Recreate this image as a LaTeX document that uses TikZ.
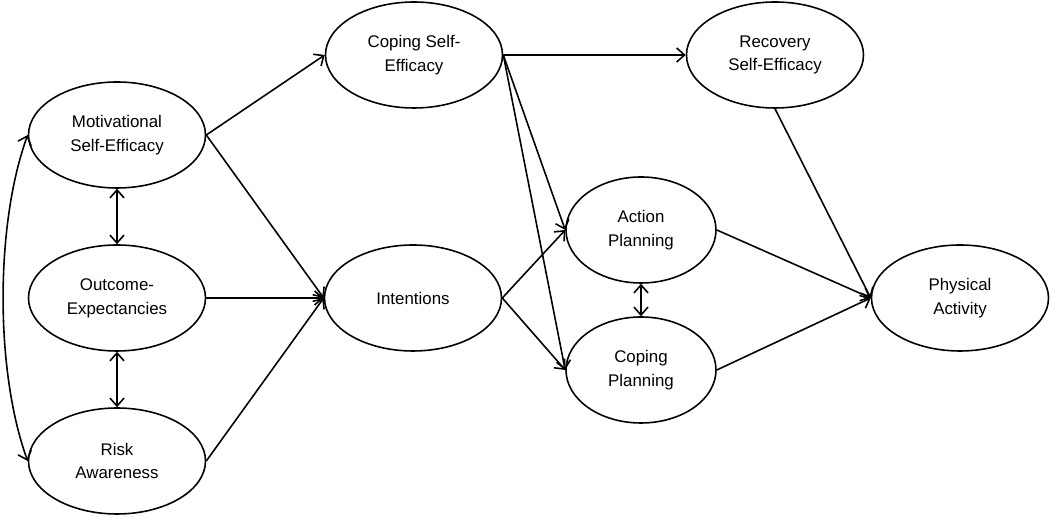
\documentclass[tikz,border=0pt]{standalone}
\usepackage{fontspec}
\setmainfont{Liberation Sans}
\usepackage{tikz}
\usetikzlibrary{shapes.geometric, arrows.meta, positioning, calc}

\tikzset{
  construct/.style={draw, ellipse, line width=0.9pt, minimum width=3.54cm,
    minimum height=2.12cm, inner sep=0pt, align=center,
    font=\fontsize{9.6}{13.6}\selectfont},
  plan/.style={construct, minimum width=3.0cm},
  link/.style={-{Straight Barb[length=4.5pt,width=8pt]}, line width=0.9pt},
  twoway/.style={{Straight Barb[length=4.5pt,width=8pt]}-{Straight Barb[length=4.5pt,width=8pt]}, line width=0.9pt}
}

\begin{document}
\begin{tikzpicture}
      \useasboundingbox (0,0) rectangle (21,10.34);

      % Left column
      \node[construct] (motse) at (2.34,7.64) {Motivational\\Self-Efficacy};
      \node[construct] (outexp) at (2.34,4.38) {Outcome-\\Expectancies};
      \node[construct] (risk) at (2.34,1.12) {Risk\\Awareness};

      % Middle column
      \node[construct] (copse) at (8.28,9.24) {Coping Self-\\Efficacy};
      \node[construct] (intent) at (8.26,4.38) {Intentions};

      % Planning
      \node[plan] (actplan) at (12.82,5.74) {Action\\Planning};
      \node[plan] (copplan) at (12.82,2.94) {Coping\\Planning};

      % Right side
      \node[construct] (recse) at (15.5,9.24) {Recovery\\Self-Efficacy};
      \node[construct] (physact) at (19.2,4.38) {Physical\\Activity};

      % Correlations
      \draw[twoway] (motse) -- (outexp);
      \draw[twoway] (outexp) -- (risk);
      \draw[twoway] (motse.west) to[out=250, in=110, looseness=0.75] (risk.west);
      \draw[twoway] (actplan) -- (copplan);

      % Paths
      \draw[link] (motse.east) -- (copse.west);
      \draw[link] (motse.east) -- (intent.west);
      \draw[link] (outexp.east) -- (intent.west);
      \draw[link] (risk.east) -- (intent.west);
      \draw[link] (copse.east) -- (recse.west);
      \draw[link] (copse.east) -- (actplan.west);
      \draw[link] (copse.east) -- (copplan.west);
      \draw[link] (intent.east) -- (actplan.west);
      \draw[link] (intent.east) -- (copplan.west);
      \draw[link] (actplan.east) -- (physact.west);
      \draw[link] (copplan.east) -- (physact.west);
      \draw[link] (recse.south) -- (physact.west);
\end{tikzpicture}
\end{document}
